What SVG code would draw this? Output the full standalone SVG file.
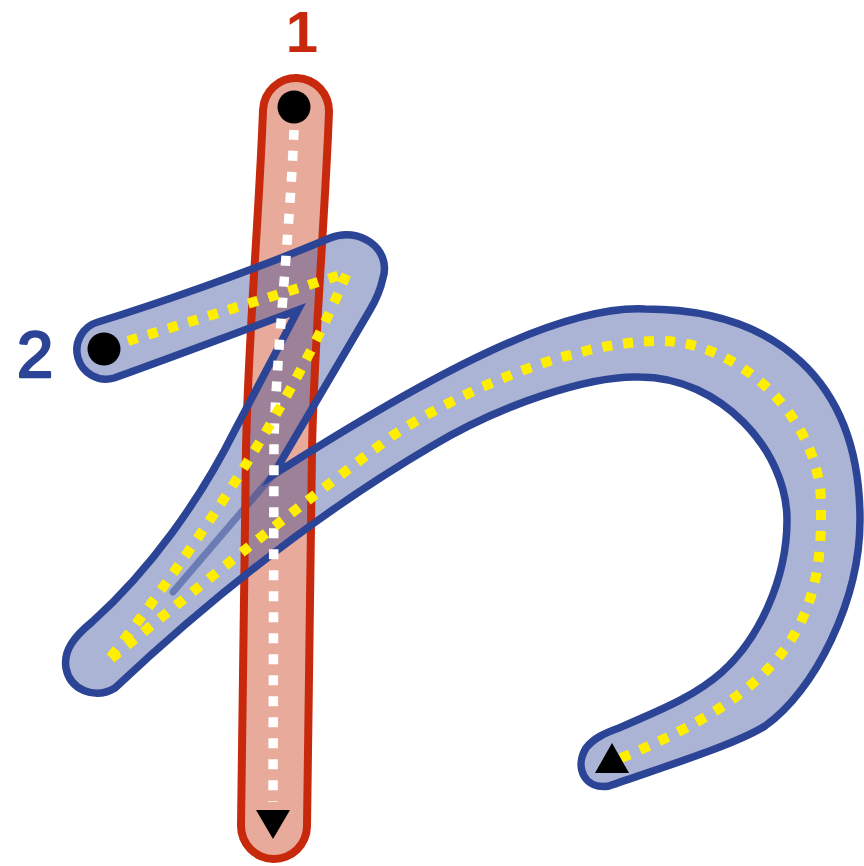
<svg xmlns="http://www.w3.org/2000/svg" width="864" height="866" viewBox="0 0 864 866">
<style>
.redfill{fill:none;stroke:#e8aa9b;stroke-width:66;stroke-linecap:round}
.redline{fill:none;stroke:#c8290c;stroke-width:74;stroke-linecap:round}
.bluefill{fill:#2c4495;fill-opacity:0.4;stroke:none}
.blueline{fill:none;stroke:#2c4495;stroke-width:7.5;stroke-linejoin:miter;stroke-miterlimit:6}
.crease{fill:none;stroke:#2c4495;stroke-opacity:0.5;stroke-width:7;stroke-linecap:round}
.wdash{fill:none;stroke:#ffffff;stroke-width:9.5;stroke-dasharray:10 11}
.ydash{fill:none;stroke:#ffee00;stroke-width:10;stroke-dasharray:10 11}
.lbl{font-family:"Liberation Sans",Arial,sans-serif;text-anchor:middle}
</style>
<defs>
<path id="redc" d="M296,111 C292,220 281,340 279,450 L274,826"/>
<path id="blue" d="M298,310 C250,328 170,358 114,378 A29,29 0 0 1 98,322 C150,306 250,272 330,238 C358,226 392,248 383,278 C380,292 376,300 370,310 L273,475 C430,375 560,305 645,309 C775,309 860,380 860,520 C860,600 815,691 765,726 C735,745 660,768 609,786 C585,790 574,768 586,748 C594,738 605,733 619,728 C655,712 693,698 722,672 C758,640 787,580 787,520 C787,450 720,377 640,377 C590,375 500,405 432,446 C340,500 230,580 115,688 C95,700 70,690 66,668 C63,650 75,636 92,622 C150,570 200,500 235,430 L298,310 Z"/>
<mask id="redRing" maskUnits="userSpaceOnUse" x="0" y="0" width="864" height="866">
<rect x="0" y="0" width="864" height="866" fill="#fff"/>
<use href="#redc" fill="none" stroke="#000" stroke-width="58" stroke-linecap="round"/>
</mask>
</defs>
<g id="stroke1-fill">
<use href="#redc" class="redfill"/>
</g>
<g id="stroke2-fill">
<use href="#blue" class="bluefill"/>
<path class="crease" d="M273,475 L173,592"/>
</g>
<g id="stroke1-outline">
<use href="#redc" class="redline" mask="url(#redRing)"/>
</g>
<g id="stroke2-outline">
<use href="#blue" class="blueline"/>
</g>
<g id="connectors">
<path class="wdash" d="M294,130 C290,230 276,360 274,440 L273,802"/>
<path class="ydash" d="M128,341 L347,273 Q275,445 107,662 C200,585 300,505 392,436 C470,385 580,341 660,341 C740,341 821,420 821,505 C823,620 790,690 616,760"/>
</g>
<g id="markers">
<circle cx="294" cy="107" r="16.5" fill="#000"/>
<polygon points="256,810 290,810 273,839" fill="#000"/>
<circle cx="104" cy="349" r="16.5" fill="#000"/>
<polygon points="612,743 595,773 629,773" fill="#000"/>
</g>
<g id="labels">
<text class="lbl" x="302" y="52" font-size="58" font-weight="bold" fill="#c8290c">1</text>
<text class="lbl" x="35" y="377" font-size="65" fill="#2c4495" stroke="#2c4495" stroke-width="2.5" stroke-linejoin="round">2</text>
</g>
</svg>
